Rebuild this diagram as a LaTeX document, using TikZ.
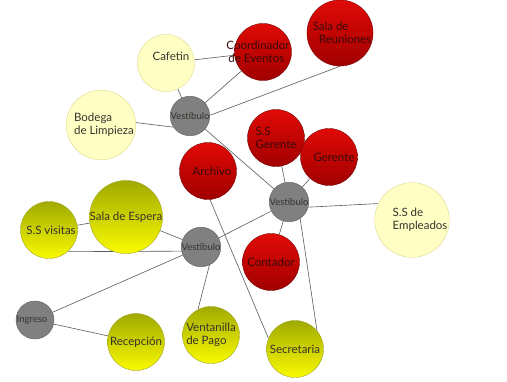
\documentclass[tikz,border=0pt]{standalone}
\usepackage{fontspec}
\setmainfont{Lato}
\usetikzlibrary{backgrounds}
\definecolor{linegray}{RGB}{90, 90, 90}
\definecolor{textgray}{RGB}{55, 50, 45}
\definecolor{textred}{RGB}{55, 10, 10}
\definecolor{redtop}{RGB}{225, 10, 6}
\definecolor{redbot}{RGB}{160, 0, 0}
\definecolor{redline}{RGB}{115, 10, 10}
\definecolor{greentop}{RGB}{160, 170, 0}
\definecolor{greenbot}{RGB}{250, 250, 0}
\definecolor{greenline}{RGB}{160, 165, 40}
\definecolor{palefill}{RGB}{255, 255, 196}
\definecolor{paleline}{RGB}{225, 215, 140}
\definecolor{hallfill}{RGB}{128, 128, 128}
\definecolor{hallline}{RGB}{95, 95, 95}

\tikzset{
  lbl/.style={font=\fontsize{11.5}{13}\selectfont, text=textgray, align=left},
  room/.style={circle, minimum size=57pt, inner sep=0pt, lbl},
  redroom/.style={room, draw=redline, top color=redtop, bottom color=redbot, text=textred},
  greenroom/.style={room, draw=greenline, top color=greentop, bottom color=greenbot},
  paleroom/.style={room, draw=paleline, fill=palefill},
  hall/.style={room, minimum size=38pt, draw=hallline, fill=hallfill,
    font=\fontsize{9.5}{11}\selectfont},
  link/.style={draw=linegray, line width=0.6pt}
}

\begin{document}
\begin{tikzpicture}[x=1pt, y=-1pt]
  \useasboundingbox (0,0) rectangle (507,381);

  % vestibulos
  \node[hall] (vtop) at (190,116) {Vestibulo};
  \node[hall] (vmid) at (289,202) {Vestibulo};
  \node[hall] (vlow) at (201,247) {Vestibulo};
  \node[hall] (ingreso) at (35,320) {\hspace*{-6pt}Ingreso};

  % zona administrativa
  \node[paleroom, label={[lbl, xshift=5pt, yshift=7pt]center:Cafetin}] (cafetin) at (166,63) {};
  \node[redroom] (coord) at (263,52) {\hspace*{-10pt}Coordinador\\\hspace*{-8pt}de Eventos};
  \node[redroom] (reuniones) at (340,33) {\hspace*{4pt}Sala de\\\hspace*{10pt}Reuniones};
  \node[paleroom] (bodega) at (101,125) {\hspace*{6pt}Bodega\\\hspace*{6pt}de Limpieza};
  \node[redroom] (ssgerente) at (276,138) {S.S\\Gerente};
  \node[redroom] (gerente) at (329,157) {\hspace*{10pt}Gerente};
  \node[redroom] (archivo) at (208,171) {\hspace*{8pt}Archivo};
  \node[paleroom, minimum size=54pt] (ssempleados) at (412,220) {\hspace*{16pt}S.S de\\\hspace*{16pt}Empleados};
  \node[redroom] (contador) at (271,262) {Contador};

  % zona de atencion
  \node[greenroom] (espera) at (126,217) {Sala de Espera};
  \node[greenroom] (ssvisitas) at (49,230) {\hspace*{4pt}S.S visitas};
  \node[greenroom] (recepcion) at (136,342) {Recepción};
  \node[greenroom] (ventanilla) at (211,335) {Ventanilla\\de Pago};
  \node[greenroom] (secretaria) at (295,349) {Secretaria};

  % conexiones
  \begin{scope}[on background layer]
    \draw[link] (cafetin) -- (coord);
    \draw[link] (vtop) -- (cafetin);
    \draw[link] (vtop) -- (coord);
    \draw[link] (vtop.2) -- (reuniones.270);
    \draw[link] (bodega.4) -- (vtop.214);
    \draw[link] (vtop) -- (vmid);
    \draw[link] (vmid) -- (ssgerente);
    \draw[link] (vmid) -- (gerente);
    \draw[link] (vmid.-15) -- (ssempleados.154);
    \draw[link] (vmid) -- (contador);
    \draw[link] (vmid.-56) -- (secretaria.40);
    \draw[link] (vlow) -- (vmid);
    \draw[link] (archivo.-86) -- (secretaria.158);
    \draw[link] (vlow) -- (espera);
    \draw[link] (ssvisitas) -- (espera);
    \draw[link] (ssvisitas.-49) -- (vlow.192);
    \draw[link] (vlow) -- (ingreso);
    \draw[link] (vlow.-65) -- (ventanilla.117);
    \draw[link] (ingreso) -- (recepcion);
  \end{scope}
\end{tikzpicture}
\end{document}
